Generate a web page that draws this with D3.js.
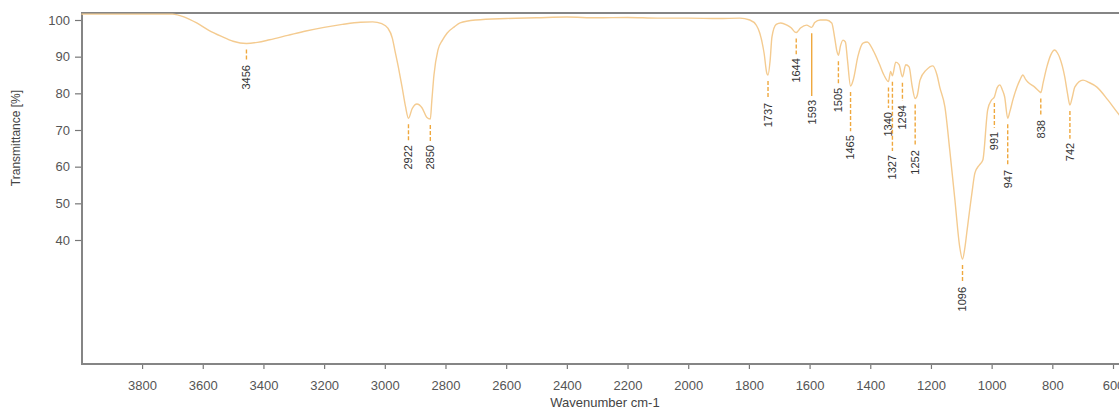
<!DOCTYPE html>
<html>
<head>
  <title>IR spectrum</title>
  <script src="https://cdn.jsdelivr.net/npm/d3@7"></script>
  <style>
    body { margin: 0; background: #fff; }
    text { font-family: "Liberation Sans", Arial, sans-serif; }
  </style>
</head>
<body>
  <svg width="1119" height="409" id="mainsvg"></svg>
  <script>
    // spectrum (wavenumber cm-1, transmittance %)
    const wavenumbers = [4000, 3900, 3800, 3700, 3660, 3620, 3580, 3540, 3500, 3456, 3420, 3380, 3320, 3260, 3200, 3140, 3080, 3040, 3010, 2990,
      2975, 2967, 2955, 2943, 2932, 2922, 2910, 2894, 2877, 2862, 2850, 2845, 2838, 2825, 2810, 2795, 2770, 2752, 2700, 2600,
      2500, 2400, 2300, 2200, 2100, 2000, 1900, 1830, 1797, 1775, 1764, 1750, 1741, 1737, 1730, 1724, 1710, 1695, 1675, 1660,
      1648, 1644, 1630, 1610, 1593, 1583, 1565, 1545, 1527, 1517, 1510, 1505, 1498, 1490, 1482, 1475, 1465, 1455, 1441, 1424,
      1410, 1391, 1370, 1355, 1340, 1333, 1327, 1316, 1305, 1294, 1283, 1272, 1262, 1252, 1245, 1236, 1215, 1194, 1180, 1171,
      1154, 1138, 1121, 1105, 1096, 1088, 1082, 1065, 1055, 1040, 1029, 1013, 1000, 991, 982, 973, 965, 957, 947, 940,
      930, 907, 897, 888, 881, 858, 841, 838, 830, 818, 805, 792, 783, 775, 759, 750, 742, 734, 726, 699,
      680, 653, 617, 584, 570];
    const transmittance = [101.6, 101.6, 101.6, 101.6, 100.8, 99.2, 97.2, 95.6, 94.2, 93.6, 93.9, 94.6, 95.8, 97.0, 98.0, 98.8, 99.4, 99.5, 99.0, 97.8,
      95.0, 91.8, 87.0, 81.7, 76.5, 73.2, 75.8, 77.1, 76.0, 73.5, 73.0, 78.0, 85.0, 91.8, 94.5, 96.4, 98.2, 99.2, 100.0, 100.4,
      100.6, 100.8, 100.6, 100.7, 100.5, 100.5, 100.4, 100.5, 100.0, 98.5, 96.4, 91.0, 85.5, 85.0, 89.0, 95.4, 98.8, 99.2, 98.6, 97.8,
      96.7, 96.6, 97.8, 98.6, 98.0, 99.3, 100.0, 100.0, 99.2, 95.0, 91.5, 90.4, 93.0, 94.5, 94.0, 89.0, 82.0, 84.0, 90.0, 93.7,
      94.0, 91.8, 88.0, 85.0, 83.2, 86.0, 84.8, 88.5, 87.8, 84.5, 87.8, 87.2, 82.0, 78.6, 79.5, 83.6, 86.4, 87.5, 85.0, 81.7,
      76.3, 64.5, 50.9, 38.0, 34.8, 38.0, 41.9, 52.8, 58.3, 60.5, 61.8, 75.5, 78.2, 79.0, 81.5, 82.3, 81.0, 79.0, 73.2, 75.0,
      78.2, 83.6, 85.0, 83.8, 83.1, 81.7, 80.4, 80.2, 83.0, 87.2, 90.5, 91.8, 91.0, 89.6, 84.5, 80.0, 76.8, 79.0, 81.7, 83.6,
      83.0, 81.7, 78.2, 74.6, 73.2];

    // peak picks and the transmittance level where each label starts
    const peakWavenumbers = [3456, 2922, 2850, 1737, 1644, 1593, 1505, 1465, 1340, 1327, 1294, 1252, 1096, 991, 947, 838, 742];
    const peakLabelLevels = [87.7, 65.9, 65.9, 77.4, 89.6, 78.2, 81.5, 68.6, 74.9, 63.2, 76.8, 64.5, 27.2, 69.5, 59.1, 72.7, 66.5];

    const xTicks = d3.range(3800, 599, -200);
    const yTicks = [40, 50, 60, 70, 80, 90, 100];

    const svg = d3.select('svg');
    const width = +svg.attr('width');
    const plotLeft = 82, plotTop = 13, plotBottom = 364;

    const x = d3.scaleLinear().domain([3998, 600]).range([plotLeft, 1113]);
    const y = d3.scaleLinear().domain([100, 40]).range([20, 240]);

    const spectrum = wavenumbers.map((w, i) => ({ w: w, t: transmittance[i] }));
    const asc = spectrum.slice().reverse();
    const tAt = w => {
      const i = d3.bisector(d => d.w).left(asc, w);
      if (asc[i].w === w || i === 0) return asc[i].t;
      const a = asc[i - 1], b = asc[i];
      return a.t + (b.t - a.t) * (w - a.w) / (b.w - a.w);
    };

    // axes
    const xAxis = svg.append('g')
      .attr('transform', `translate(0, ${plotBottom})`)
      .call(d3.axisBottom(x).tickValues(xTicks).tickFormat(d3.format('d')).tickSize(5).tickPadding(12));
    const yAxis = svg.append('g')
      .attr('transform', `translate(${plotLeft}, 0)`)
      .call(d3.axisLeft(y).tickValues(yTicks).tickSize(7).tickPadding(5));
    [xAxis, yAxis].forEach(g => {
      g.select('.domain').remove();
      g.selectAll('line').attr('stroke', '#777').attr('stroke-width', 1.2);
      g.selectAll('text').attr('fill', '#555').style('font-size', '13px');
    });

    // frame
    svg.append('path')
      .attr('d', `M${width + 5},${plotTop}H${plotLeft}V${plotBottom}H${width + 5}`)
      .attr('fill', 'none')
      .attr('stroke', '#858585')
      .attr('stroke-width', 2);

    // axis titles
    svg.append('text')
      .attr('x', 605).attr('y', 407)
      .attr('text-anchor', 'middle')
      .attr('fill', '#444')
      .style('font-size', '13px')
      .text('Wavenumber cm-1');
    svg.append('text')
      .attr('transform', 'translate(20, 138) rotate(-90)')
      .attr('text-anchor', 'middle')
      .attr('fill', '#444')
      .style('font-size', '12px')
      .text('Transmittance [%]');

    // spectrum line
    const line = d3.line()
      .x(d => x(d.w))
      .y(d => y(d.t))
      .curve(d3.curveMonotoneX);
    svg.append('path')
      .datum(asc.slice().reverse())
      .attr('d', line)
      .attr('fill', 'none')
      .attr('stroke', '#f4cb90')
      .attr('stroke-width', 1.4);

    // peak markers and labels
    const peaks = peakWavenumbers.map((w, i) => ({ w: w, level: peakLabelLevels[i] }));
    const pg = svg.append('g').selectAll('g').data(peaks).join('g');
    pg.append('line')
      .attr('x1', d => x(d.w)).attr('x2', d => x(d.w))
      .attr('y1', d => y(tAt(d.w)) + 6)
      .attr('y2', d => y(d.level) - 4)
      .attr('stroke', '#efa83e')
      .attr('stroke-width', 1.4)
      .attr('stroke-dasharray', d => d.w === 1593 ? null : '4,2');
    pg.append('text')
      .attr('transform', d => `translate(${x(d.w)}, ${y(d.level)}) rotate(-90)`)
      .attr('text-anchor', 'end')
      .attr('dy', '0.35em')
      .attr('fill', '#333')
      .style('font-size', '11px')
      .text(d => d.w);
  </script>
</body>
</html>
